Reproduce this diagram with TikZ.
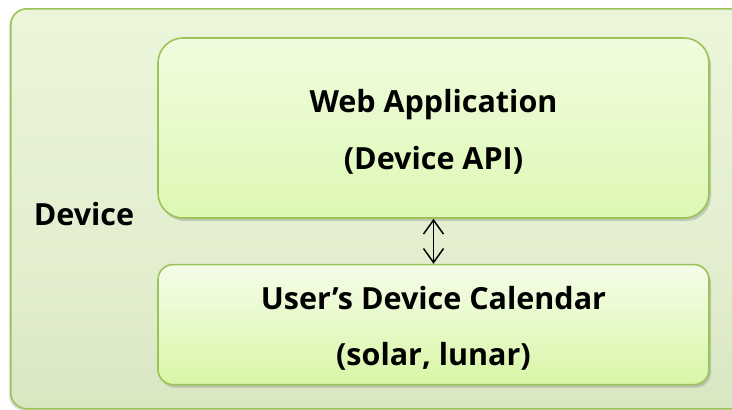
\documentclass[tikz,border=0pt]{standalone}
\usepackage{fontspec}
\setmainfont{Open Sans}
\usetikzlibrary{arrows.meta, positioning, shadows}
\definecolor{leafline}{RGB}{155,195,90}
\definecolor{leaftop}{RGB}{242,251,228}
\definecolor{leafmid}{RGB}{214,228,190}
\definecolor{leafbot}{RGB}{240,241,236}
\definecolor{apptop}{RGB}{240,252,222}
\definecolor{appbot}{RGB}{221,248,180}
\definecolor{caltop}{RGB}{245,253,234}
\definecolor{calbot}{RGB}{216,246,166}
\pgfdeclareverticalshading{devshade}{100bp}{
  color(0bp)=(leafbot); color(20bp)=(leafmid); color(40bp)=(leafmid!60!leaftop);
  color(100bp)=(leaftop)}
\newcommand{\toppad}{\rule{0pt}{31pt}}

\begin{document}
\begin{tikzpicture}[
    x=1pt, y=-1pt,
    devbox/.style={rectangle, rounded corners=16pt, draw=leafline, line width=1.6pt, shading=devshade, minimum width=735pt, minimum height=400pt, anchor=north west, drop shadow={opacity=0.25, shadow xshift=-2pt, shadow yshift=-2pt}},
    appbox/.style={rectangle, rounded corners=25pt, draw=leafline, line width=1.6pt, top color=apptop, bottom color=appbot, minimum width=551pt, minimum height=180pt, align=center, font=\fontsize{30.5}{57}\selectfont\bfseries, drop shadow={opacity=0.35, shadow xshift=2pt, shadow yshift=-3pt}},
    calbox/.style={rectangle, rounded corners=15pt, draw=leafline, line width=1.6pt, top color=caltop, bottom color=calbot, minimum width=551pt, minimum height=120pt, align=center, font=\fontsize{30.5}{56}\selectfont\bfseries, drop shadow={opacity=0.35, shadow xshift=2pt, shadow yshift=-3pt}},
    label/.style={font=\fontsize{30.5}{34}\selectfont\bfseries},
    link/.style={{Straight Barb[length=14pt, width=20pt, line width=1.5pt]}-{Straight Barb[length=14pt, width=20pt, line width=1.5pt]}, line width=1.5pt, black}
]
\useasboundingbox (0,0) rectangle (732,410);
\clip (0,0) rectangle (732,410);

\node[devbox] (device) at (10,8) {};
\node[label] (devlabel) at (84,214) {Device};

\node[appbox] (webapp) at (433.5,128) {\toppad Web Application\\(Device API)};
\node[calbox, below=45pt of webapp] (calendar) {\toppad User’s Device Calendar\\(solar, lunar)};

\draw[link] (webapp.south) -- (calendar.north);

\end{tikzpicture}
\end{document}
